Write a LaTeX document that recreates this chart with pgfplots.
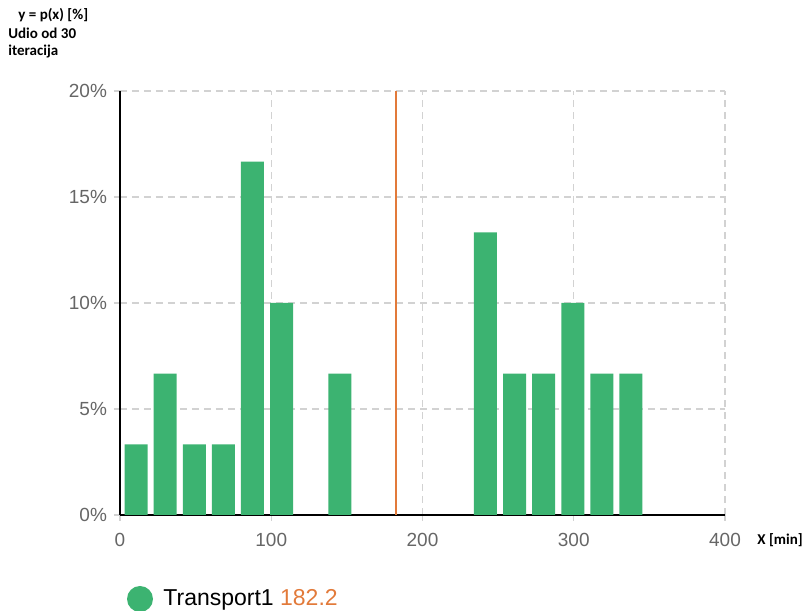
\documentclass[border=0pt]{standalone}
\usepackage{pgfplots}
\pgfplotsset{compat=1.18}
\usepackage{fontspec}
\setmainfont{Liberation Sans}
\newfontfamily\calib{Carlito}
\definecolor{barg}{RGB}{60,179,113}
\definecolor{orng}{RGB}{226,122,58}
\definecolor{ticktext}{RGB}{102,102,102}
\definecolor{gridc}{RGB}{210,210,210}
\pgfplotstableread{
x y
10.6 3.33
29.85 6.67
49.1 3.33
68.35 3.33
87.6 16.67
106.85 10
145.4 6.67
241.6 13.33
260.85 6.67
280.1 6.67
299.35 10
318.6 6.67
337.85 6.67
}\bins
\begin{document}
\begin{tikzpicture}
\useasboundingbox (0,0) rectangle (402.5pt,305.5pt);
\begin{axis}[
  at={(60pt,48pt)}, anchor=south west,
  scale only axis, width=302.5pt, height=212pt,
  xmin=0, xmax=400, ymin=0, ymax=20,
  xtick={0,100,200,300,400}, ytick={0,5,10,15,20},
  yticklabel={\pgfmathprintnumber{\tick}\%},
  /pgf/number format/assume math mode=true,
  axis x line=bottom, axis y line=left,
  axis line style={-, black, line width=0.8pt},
  grid=major,
  grid style={dash pattern=on 3.5pt off 2.5pt, color=gridc, line width=0.6pt},
  tick style={color=gridc, line width=0.6pt},
  major tick length=3pt, tick align=outside,
  tick label style={font=\fontsize{9.5}{10}\selectfont, color=ticktext},
  xticklabel style={yshift=-2.5pt},
  clip=false,
]
\addplot[ybar, bar width=15.2, fill=barg, draw=none] table {\bins};
\addplot[orng, line width=1pt] coordinates {(182.2,0) (182.2,20)};
\end{axis}
\node[anchor=west, inner sep=0pt, font=\calib\bfseries\fontsize{7.5}{8}\selectfont] at (9pt,298pt) {y = p(x) [\%]};
\node[anchor=west, inner sep=0pt, font=\calib\bfseries\fontsize{7.5}{8}\selectfont] at (4pt,289pt) {Udio od 30};
\node[anchor=west, inner sep=0pt, font=\calib\bfseries\fontsize{7.5}{8}\selectfont] at (4pt,279.5pt) {iteracija};
\node[anchor=west, inner sep=0pt, font=\calib\bfseries\fontsize{7.5}{8}\selectfont] at (378.5pt,35.5pt) {X [min]};
\fill[barg] (70pt,6pt) circle (6.5pt);
\node[anchor=west, inner sep=0pt, font=\fontsize{11.5}{13}\selectfont] at (81.5pt,5.5pt) {Transport1 \textcolor{orng}{182.2}};
\end{tikzpicture}
\end{document}
